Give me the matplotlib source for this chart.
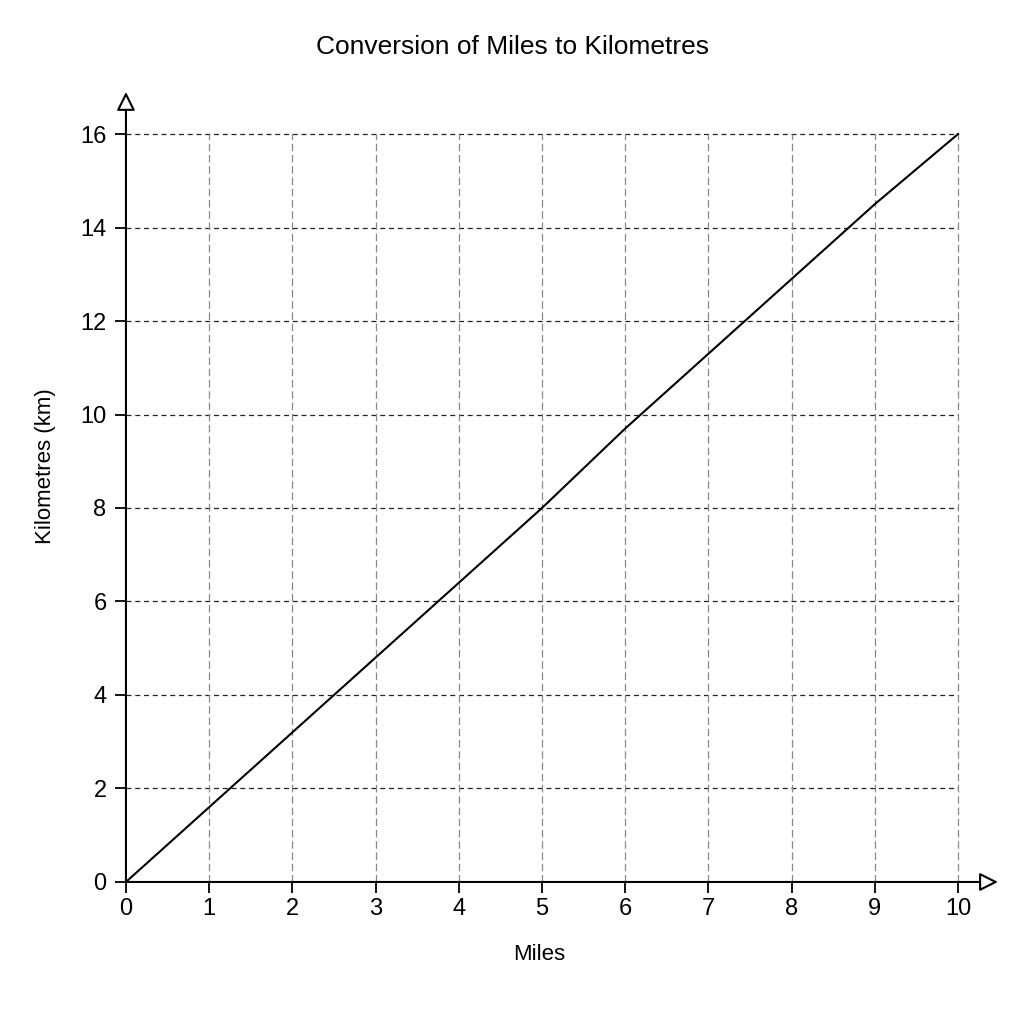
import matplotlib
matplotlib.use("Agg")
import matplotlib.pyplot as plt

plt.rcParams['font.family'] = ['Liberation Sans', 'DejaVu Sans']

# miles and the matching kilometres
miles = [0, 1, 2, 3, 4, 5, 6, 7, 8, 9, 10]
km = [0, 1.6, 3.2, 4.8, 6.4, 8.0, 9.7, 11.3, 12.9, 14.5, 16.0]
x_ticks = [0, 1, 2, 3, 4, 5, 6, 7, 8, 9, 10]
y_ticks = [0, 2, 4, 6, 8, 10, 12, 14, 16]

fig = plt.figure(figsize=(10.24, 10.24), dpi=100)
ax = fig.add_axes([0.123, 0.1387, 0.8516, 0.7715])
ax.set_xlim(0, 10.48)
ax.set_ylim(0, 16.9)

# grid only over the data range
ax.hlines(y_ticks[1:], 0, x_ticks[-1], colors='#222222', linestyles=(0, (4, 3)), lw=0.9)
ax.vlines(x_ticks[1:], 0, y_ticks[-1], colors='#888888', linestyles=(0, (6, 3)), lw=0.9)

ax.plot(miles, km, color='black', lw=1.5, zorder=3)

for s in ax.spines.values():
    s.set_visible(False)

# axis lines with open arrow heads
arrow = dict(arrowstyle='-|>', fc='white', ec='black', lw=1.5, mutation_scale=28, shrinkA=0, shrinkB=0)
ax.annotate('', xy=(1, 0), xycoords='axes fraction', xytext=(0, 0), arrowprops=arrow, zorder=4)
ax.annotate('', xy=(0, 1), xycoords='axes fraction', xytext=(0, 0), arrowprops=arrow, zorder=4)

ax.set_xticks(x_ticks)
ax.set_yticks(y_ticks)
ax.tick_params(axis='both', labelsize=17, length=8, width=1.3, color='black')
ax.tick_params(axis='y', pad=6)
ax.set_xlabel('Miles', fontsize=16)
ax.set_ylabel('Kilometres (km)', fontsize=16)
ax.xaxis.set_label_coords(0.474, -0.079)
ax.yaxis.set_label_coords(-0.08, 0.527)
fig.suptitle('Conversion of Miles to Kilometres', fontsize=19, y=0.966)

fig.savefig('out.png', dpi=100, facecolor='white')
